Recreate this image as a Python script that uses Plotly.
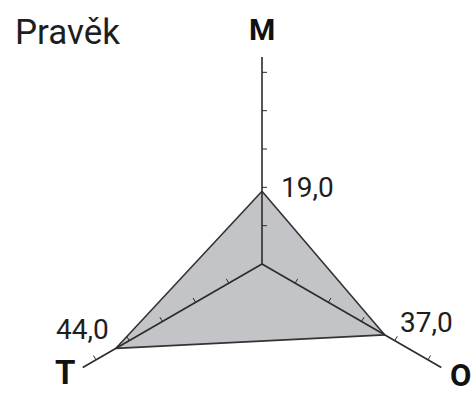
import numpy as np
import plotly.graph_objects as go

# %% data
axes_names = ["M", "O", "T"]
values = [19.0, 37.0, 44.0]
value_labels = ["19,0", "37,0", "44,0"]
tick_values = [10, 20, 30, 40, 50]
title_text = "Pravěk"

# %% geometry / style
W, H = 472, 394
cx, cy = 262, 264               # centre of the star, px from top-left
angles = [90, -30, 210]         # axis directions (deg, counter-clockwise from east)
r_max = 54
ppu = 207 / r_max               # px per unit
tick_side = [-1, 1, -1]         # which side of each axis the ticks sit on
tick_len = 5 / ppu
label_off = [(45, 4), (42, 12), (-33, 19)]      # value label offsets, px (x right, y up)
name_off = [(0, 28), (19, -8), (-18, -5)]       # axis letter offsets, px
name_size = [30, 31, 33]
font_fam = "Roboto, Liberation Sans, sans-serif"
dark = "#2b2b2b"


def xy(r, ang):
    a = np.radians(ang)
    return r * np.cos(a), r * np.sin(a)


fig = go.Figure()

# filled polygon
px_, py_ = zip(*[xy(v, a) for v, a in zip(values, angles)])
fig.add_trace(go.Scatter(
    x=list(px_) + [px_[0]], y=list(py_) + [py_[0]], mode="lines", fill="toself",
    fillcolor="#c3c4c7", line=dict(color="#333333", width=1.6), hoverinfo="skip"))

# axis lines
for a in angles:
    ex, ey = xy(r_max, a)
    fig.add_trace(go.Scatter(x=[0, ex], y=[0, ey], mode="lines",
                             line=dict(color=dark, width=1.6), hoverinfo="skip"))

# ticks
tx, ty = [], []
for a, s in zip(angles, tick_side):
    nx, ny = xy(tick_len, a + s * 90)
    for v in tick_values:
        bx, by = xy(v, a)
        tx += [bx, bx + nx, None]
        ty += [by, by + ny, None]
fig.add_trace(go.Scatter(x=tx, y=ty, mode="lines",
                         line=dict(color=dark, width=1), hoverinfo="skip"))

annotations = []
# value labels
for v, a, lab, (dx, dy) in zip(values, angles, value_labels, label_off):
    x0, y0 = xy(v, a)
    annotations.append(dict(x=x0, y=y0, text=lab, showarrow=False, xshift=dx, yshift=dy,
                            font=dict(family=font_fam, size=28, color="#1e1e1e")))
# axis letters
for a, nm, (dx, dy), fs in zip(angles, axes_names, name_off, name_size):
    x0, y0 = xy(r_max, a)
    annotations.append(dict(x=x0, y=y0, text="<b>" + nm + "</b>", showarrow=False,
                            xshift=dx, yshift=dy,
                            font=dict(family=font_fam, size=fs, color="#111111")))
annotations.append(dict(text=title_text, xref="paper", yref="paper", x=13 / W, y=1 - 10 / H,
                        xanchor="left", yanchor="top", showarrow=False,
                        font=dict(family=font_fam, size=35, color="#1e1e1e")))

fig.update_layout(
    width=W, height=H,
    margin=dict(l=0, r=0, t=0, b=0),
    paper_bgcolor="white", plot_bgcolor="white",
    showlegend=False,
    xaxis=dict(range=[-cx / ppu, (W - cx) / ppu], visible=False, fixedrange=True),
    yaxis=dict(range=[-(H - cy) / ppu, cy / ppu], visible=False, fixedrange=True),
    annotations=annotations,
)

# drop the page's default 8px body margin so the figure fills the window
fig.write_html("out.html", config={"displayModeBar": False},
               post_script="document.body.style.margin='0';")
